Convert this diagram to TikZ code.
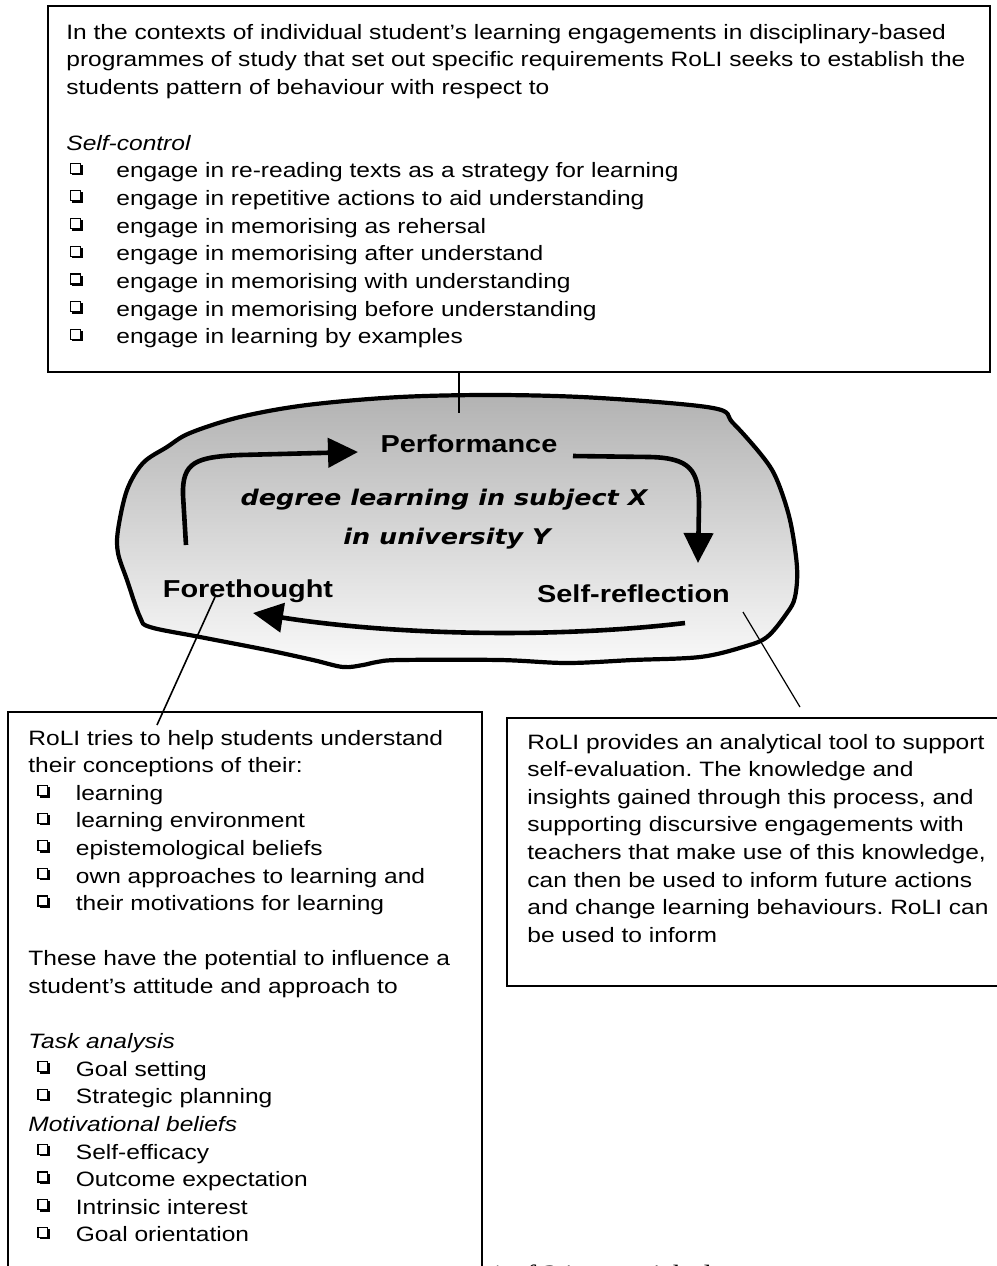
\documentclass[tikz,border=0pt]{standalone}
\usepackage{fontspec}
\setmainfont{Liberation Sans}[FakeStretch=1.18]
\newfontfamily\comicfont{DejaVu Sans}[FakeStretch=1.18]
\newfontfamily\footfont{Liberation Serif}[FakeStretch=1.18]
\usetikzlibrary{arrows.meta}
\frenchspacing
\newcommand\cbx{\tikz[baseline=0pt]{\path (0pt,0pt) rectangle (6.3pt,7.6pt);\fill[black] (1.1pt,1.3pt) rectangle (6.3pt,6.5pt);\filldraw[fill=white,draw=black,line width=0.6pt] (0.3pt,2.3pt) rectangle (5.2pt,7.3pt);}}
\newcommand\ti[1]{\makebox[25pt][l]{\hspace*{1.8pt}\cbx}#1}
\newcommand\li[1]{\makebox[23.75pt][l]{\hspace*{4.5pt}\cbx}#1}
\tikzset{
  frame/.style={draw=black, line width=0.9pt, inner sep=0pt, outer sep=0pt, anchor=north west},
  body/.style={anchor=base west, inner sep=0pt},
  lbl/.style={font=\fontsize{12.25pt}{14pt}\selectfont\bfseries, anchor=base, inner sep=0pt},
  comic/.style={font={\comicfont\fontsize{10.8pt}{13pt}\selectfont\bfseries\itshape}, anchor=base, inner sep=0pt},
  conn/.style={line width=0.6pt},
  flow/.style={line width=2.3pt, -{Triangle[length=15pt,width=14.5pt]}},
  cloud/.style={line width=2.1pt, top color=black!30, bottom color=black!2},
}
\begin{document}
\begin{tikzpicture}[x=0.5pt,y=-0.5pt]
\useasboundingbox (0,0) rectangle (997,1266);
\fill[white] (0,0) rectangle (997,1266);
\clip (0,0) rectangle (997,1266);

% boxes
\node[frame, minimum width=471pt, minimum height=183pt] (topbox) at (48,6) {};
\node[frame, minimum width=237pt, minimum height=290pt] (leftbox) at (8,712) {};
\node[frame, minimum width=250pt, minimum height=134pt] (rightbox) at (507,718) {};

% cloud
\draw[cloud] plot[smooth cycle, tension=0.55] coordinates {
 (167,447) (190,433) (240,417) (307,405) (400,397) (500,395) (600,398)
 (713,408) (733,423) (763,457) (777,480) (790,520) (797,567) (795,597)
 (787,613) (767,637) (743,647) (700,657) (633,660) (567,663) (500,660)
 (400,660) (377,662) (363,665) (343,667) (313,660) (267,650) (200,637)
 (150,627) (140,617) (127,580) (118,553) (118,530) (127,490) (143,463)};

% flow arrows
\coordinate (a1s) at (186,545); \coordinate (a1e) at (358,452);
\coordinate (a2s) at (573,456); \coordinate (a2e) at (698,563);
\coordinate (a3s) at (685,623); \coordinate (a3e) at (253,613);
\draw[flow] (a1s) -- (183,495) .. controls (182,462) and (196,457) .. (240,455) -- (a1e);
\draw[flow] (a2s) -- (650,457) .. controls (690,458) and (699,470) .. (699,505) -- (a2e);
\draw[flow] (a3s) .. controls (560,638) and (400,636) .. (a3e);

% labels
\node[lbl] (perf) at (469,452) {Performance};
\node[lbl] (fore) at (248,597) {Forethought};
\node[lbl] (selfr) at (633.5,602) {Self-reflection};
\node[comic] (deg1) at (444,505) {degree learning in subject X};
\node[comic] (deg2) at (447,544) {in university Y};

% connectors
\coordinate (tA) at (459,413);
\draw[conn] (topbox.south -| tA) -- (tA);
\coordinate (fA) at (215,597); \coordinate (fB) at (157,725);
\draw[conn, line width=0.8pt] (fA) -- (fB);
\coordinate (sA) at (743,612); \coordinate (sB) at (800,707);
\draw[conn] (sA) -- (sB);

% texts
\node[body] (toptext) at (66,39.2) {\parbox[t]{470pt}{\fontsize{10.4pt}{13.85pt}\selectfont
In the contexts of individual student’s learning engagements in disciplinary-based\\
programmes of study that set out specific requirements RoLI seeks to establish the\\
students pattern of behaviour with respect to\\
\mbox{}\\
\textit{Self-control}\\
\ti{engage in re-reading texts as a strategy for learning}\\
\ti{engage in repetitive actions to aid understanding}\\
\ti{engage in memorising as rehersal}\\
\ti{engage in memorising after understand}\\
\ti{engage in memorising with understanding}\\
\ti{engage in memorising before understanding}\\
\ti{engage in learning by examples}}};

\node[body] (lefttext) at (28,745) {\parbox[t]{235pt}{\fontsize{10.4pt}{13.8pt}\selectfont
RoLI tries to help students understand\\
their conceptions of their:\\
\li{learning}\\
\li{learning environment}\\
\li{epistemological beliefs}\\
\li{own approaches to learning and}\\
\li{their motivations for learning}\\
\mbox{}\\
These have the potential to influence a\\
student’s attitude and approach to\\
\mbox{}\\
\textit{Task analysis}\\
\li{Goal setting}\\
\li{Strategic planning}\\
\textit{Motivational beliefs}\\
\li{Self-efficacy}\\
\li{Outcome expectation}\\
\li{Intrinsic interest}\\
\li{Goal orientation}}};

\node[body] (righttext) at (527,749) {\parbox[t]{240pt}{\fontsize{10.4pt}{13.8pt}\selectfont
RoLI provides an analytical tool to support\\
self-evaluation. The knowledge and\\
insights gained through this process, and\\
supporting discursive engagements with\\
teachers that make use of this knowledge,\\
can then be used to inform future actions\\
and change learning behaviours. RoLI can\\
be used to inform}};

% cut-off footer line (only the tops of its glyphs are inside the picture)
\node[body, font=\footfont\fontsize{12.5pt}{14pt}\selectfont] (foot) at (489,1282) {1 of 24\hspace{40pt}i\hspace{6pt}h\hspace{8pt}l};
\end{tikzpicture}
\end{document}
